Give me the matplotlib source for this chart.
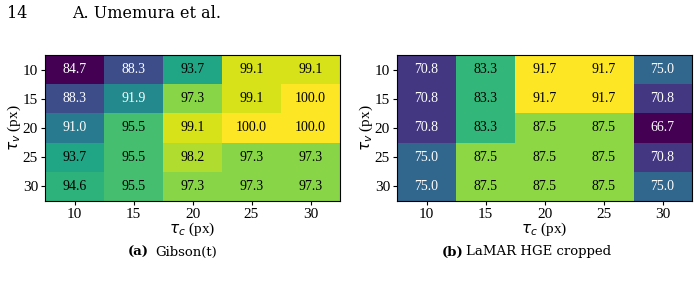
import matplotlib
matplotlib.use("Agg")
import matplotlib.pyplot as plt
import numpy as np

tau_c = [10, 15, 20, 25, 30]
tau_v = [10, 15, 20, 25, 30]

gibson = [
    [84.7, 88.3, 93.7, 99.1, 99.1],
    [88.3, 91.9, 97.3, 99.1, 100.0],
    [91.0, 95.5, 99.1, 100.0, 100.0],
    [93.7, 95.5, 98.2, 97.3, 97.3],
    [94.6, 95.5, 97.3, 97.3, 97.3],
]
lamar = [
    [70.8, 83.3, 91.7, 91.7, 75.0],
    [70.8, 83.3, 91.7, 91.7, 70.8],
    [70.8, 83.3, 87.5, 87.5, 66.7],
    [75.0, 87.5, 87.5, 87.5, 70.8],
    [75.0, 87.5, 87.5, 87.5, 75.0],
]

plt.rcParams['font.family'] = ['Liberation Serif', 'DejaVu Serif']
plt.rcParams['mathtext.fontset'] = 'dejavusans'

fig = plt.figure(figsize=(7, 2.84), dpi=100)


def heat(ax, data):
    arr = np.array(data)
    cmap = plt.get_cmap('viridis')
    norm = plt.Normalize(arr.min(), arr.max())
    ax.imshow(arr, cmap=cmap, norm=norm, aspect='auto', interpolation='nearest')
    for i in range(arr.shape[0]):
        for j in range(arr.shape[1]):
            tc = 'black' if norm(arr[i, j]) > 0.5 else 'white'
            ax.text(j, i, f"{arr[i, j]:.1f}", ha='center', va='center',
                    color=tc, fontsize=10)
    ax.set_xticks(range(len(tau_c)))
    ax.set_xticklabels(tau_c)
    ax.set_yticks(range(len(tau_v)))
    ax.set_yticklabels(tau_v)
    ax.tick_params(labelsize=11, length=3, pad=2)
    ax.set_xlabel(r'$\tau_c$ (px)', fontsize=11, labelpad=0)
    ax.set_ylabel(r'$\tau_v$ (px)', fontsize=11, labelpad=0)


ax1 = fig.add_axes([45 / 700, 1 - 201 / 284, 295 / 700, 146 / 284])
heat(ax1, gibson)
ax2 = fig.add_axes([397 / 700, 1 - 201 / 284, 295 / 700, 146 / 284])
heat(ax2, lamar)

hdr = dict(fontsize=11.5, va='center', ha='left', family='DejaVu Serif')
fig.text(7 / 700, 1 - 13 / 284, "14", **hdr)
fig.text(72 / 700, 1 - 13 / 284, "A. Umemura et al.", **hdr)

cap = dict(fontsize=9.5, va='center', family='DejaVu Serif')
fig.text(149 / 700, 1 - 252 / 284, "(a)", fontweight='bold', ha='right', **cap)
fig.text(155 / 700, 1 - 252 / 284, "Gibson(t)", ha='left', **cap)
fig.text(463 / 700, 1 - 252 / 284, "(b)", fontweight='bold', ha='right', **cap)
fig.text(466 / 700, 1 - 252 / 284, "LaMAR HGE cropped", ha='left', **cap)

fig.savefig("out.png", dpi=100)
